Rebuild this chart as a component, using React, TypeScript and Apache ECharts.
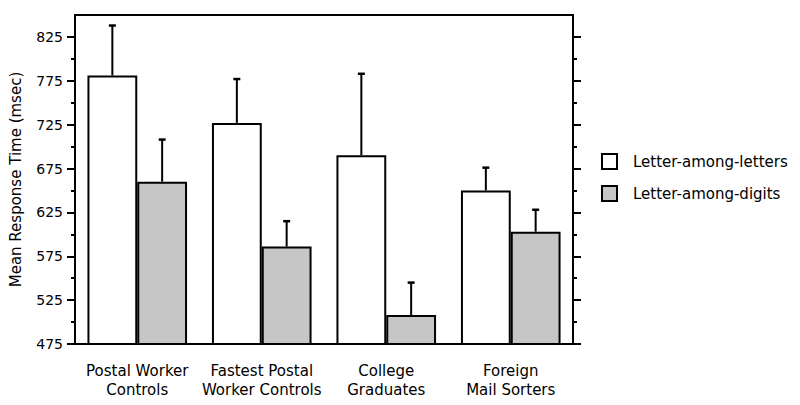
import React, { useEffect, useRef } from "react";
import * as echarts from "echarts";

const categories = [
  "Postal Worker\nControls",
  "Fastest Postal\nWorker Controls",
  "College\nGraduates",
  "Foreign\nMail Sorters",
];
const seriesNames = ["Letter-among-letters", "Letter-among-digits"];
const lettersMeans = [781, 727, 690, 650];
const digitsMeans = [660, 586, 508, 603];
const lettersErr = [57, 50, 93, 26];
const digitsErr = [48, 29, 37, 25];
const yMajorTicks = [475, 525, 575, 625, 675, 725, 775, 825];
const yMinorTicks = [500, 550, 600, 650, 700, 750, 800];
const yMin = 475;
const yMax = 850;

const FONT = "DejaVu Sans";

function errorSeries(name: string, means: number[], errs: number[], side: number) {
  return {
    type: "custom",
    name: name + " error",
    xAxisIndex: 0,
    yAxisIndex: 0,
    z: 5,
    silent: true,
    encode: { x: 0, y: [1, 2] },
    data: means.map((m, i) => [i, m, m + errs[i]]),
    renderItem: (params: any, api: any) => {
      const idx = api.value(0);
      const mean = api.value(1);
      const hi = api.value(2);
      const base = api.coord([idx, mean]);
      const top = api.coord([idx, hi]);
      const band = api.size([1, 0])[0];
      const x = base[0] + side * band * 0.2;
      return {
        type: "group",
        children: [
          {
            type: "line",
            shape: { x1: x, y1: base[1], x2: x, y2: top[1] },
            style: { stroke: "#000", lineWidth: 2 },
          },
          {
            type: "line",
            shape: { x1: x - 3.5, y1: top[1], x2: x + 3.5, y2: top[1] },
            style: { stroke: "#000", lineWidth: 2.5 },
          },
        ],
      };
    },
  };
}

function yAxisCfg(position: string, ticks: number[], len: number, showLine: boolean, showLabels: boolean) {
  return {
    type: "value",
    position,
    min: yMin,
    max: yMax,
    splitLine: { show: false },
    axisLine: { show: showLine, lineStyle: { color: "#000", width: 2 } },
    axisTick: {
      show: true,
      inside: false,
      length: len,
      customValues: ticks,
      lineStyle: { color: "#000", width: 2 },
    },
    axisLabel: showLabels
      ? {
          show: true,
          customValues: ticks,
          margin: 12,
          color: "#000",
          fontSize: 14,
          fontFamily: FONT,
        }
      : { show: false },
  };
}

export default function App() {
  const ref = useRef<HTMLDivElement>(null);
  useEffect(() => {
    if (!ref.current) return;
    const chart = echarts.init(ref.current, null, { renderer: "svg" });
    chart.setOption({
      animation: false,
      backgroundColor: "#fff",
      textStyle: { fontFamily: FONT, color: "#000" },
      grid: { left: 75, right: 227, top: 15, bottom: 61 },
      legend: {
        data: seriesNames,
        orient: "vertical",
        left: 601,
        top: 153,
        padding: 0,
        icon: "rect",
        itemWidth: 15,
        itemHeight: 15,
        itemGap: 15,
        textStyle: { fontSize: 15, fontFamily: FONT, color: "#000", padding: [0, 0, 0, 11] },
      },
      xAxis: [
        {
          type: "category",
          data: categories,
          position: "bottom",
          axisLine: { show: true, lineStyle: { color: "#000", width: 2 } },
          axisTick: { show: false },
          axisLabel: {
            interval: 0,
            margin: 17,
            fontSize: 15,
            lineHeight: 19,
            fontFamily: FONT,
            color: "#000",
          },
        },
        {
          type: "category",
          data: categories,
          position: "top",
          axisLine: { show: true, lineStyle: { color: "#000", width: 2 } },
          axisTick: { show: false },
          axisLabel: { show: false },
        },
      ],
      yAxis: [
        {
          ...yAxisCfg("left", yMajorTicks, 8, true, true),
          name: "Mean Response Time (msec)",
          nameLocation: "middle",
          nameGap: 52,
          nameRotate: 90,
          nameTextStyle: { fontSize: 15, fontFamily: FONT, color: "#000" },
        },
        yAxisCfg("left", yMinorTicks, 4, false, false),
        yAxisCfg("right", yMajorTicks, 8, true, false),
        yAxisCfg("right", yMinorTicks, 4, false, false),
      ],
      series: [
        {
          type: "bar",
          name: seriesNames[0],
          data: lettersMeans,
          barWidth: "40%",
          barGap: "0%",
          itemStyle: { color: "#ffffff", borderColor: "#000", borderWidth: 2 },
        },
        {
          type: "bar",
          name: seriesNames[1],
          data: digitsMeans,
          barWidth: "40%",
          barGap: "0%",
          itemStyle: { color: "#c6c6c6", borderColor: "#000", borderWidth: 2 },
        },
        errorSeries(seriesNames[0], lettersMeans, lettersErr, -1),
        errorSeries(seriesNames[1], digitsMeans, digitsErr, 1),
      ],
    });
    return () => chart.dispose();
  }, []);
  return (
    <div
      ref={ref}
      style={{ position: "fixed", left: 0, top: 0, width: 800, height: 405 }}
    />
  );
}
